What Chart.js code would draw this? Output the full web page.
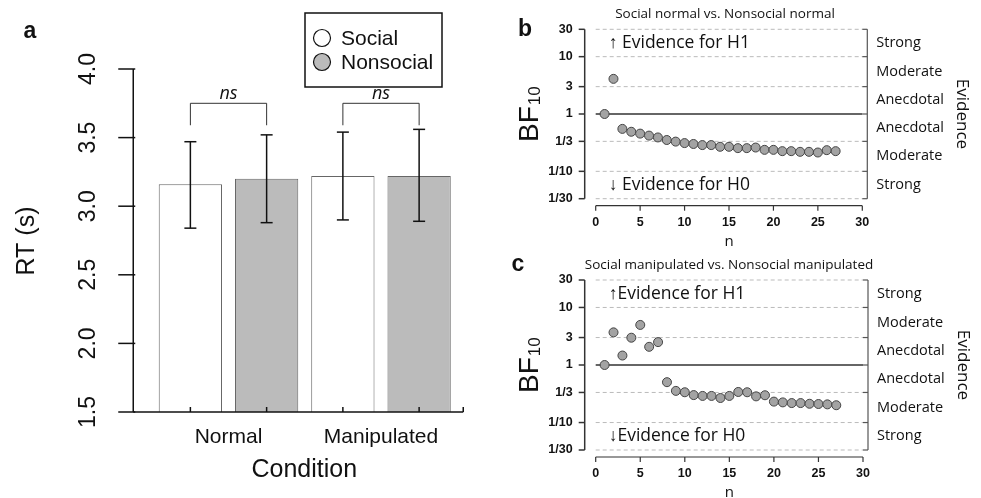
<!DOCTYPE html>
<html>
<head>
<meta charset="utf-8">
<script src="https://cdn.jsdelivr.net/npm/chart.js@4.4.0/dist/chart.umd.min.js"></script>
<style>
body { margin: 0; background: #fff; }
#wrap { position: relative; width: 981px; height: 498px; }
canvas { position: absolute; left: 0; top: 0; }
</style>
</head>
<body>
<div id="wrap">
<canvas id="chartA" width="981" height="498"></canvas>
<canvas id="chartB" width="981" height="498"></canvas>
<canvas id="chartC" width="981" height="498"></canvas>
</div>
<script>
// panel a: mean RT with error bars
const conditions = ["Normal", "Manipulated"];
const socialRT = [3.16, 3.22];
const nonsocialRT = [3.20, 3.22];
const socialLow = [2.84, 2.90];
const socialHigh = [3.47, 3.54];
const nonsocialLow = [2.88, 2.89];
const nonsocialHigh = [3.52, 3.56];
const rtTicks = [1.5, 2.0, 2.5, 3.0, 3.5, 4.0];
const rtTickLabels = ["1.5", "2.0", "2.5", "3.0", "3.5", "4.0"];

// panels b, c: sequential Bayes factors
const nObs = [1, 2, 3, 4, 5, 6, 7, 8, 9, 10, 11, 12, 13, 14, 15, 16, 17, 18, 19, 20, 21, 22, 23, 24, 25, 26, 27];
const bfNormal = [1, 4.1, 0.55, 0.49, 0.455, 0.42, 0.39, 0.352, 0.33, 0.311, 0.30, 0.287, 0.287, 0.268, 0.268,
  0.254, 0.254, 0.26, 0.237, 0.237, 0.225, 0.225, 0.219, 0.219, 0.213, 0.234, 0.225];
const bfManip = [1, 3.69, 1.46, 2.98, 4.97, 2.07, 2.5, 0.503, 0.355, 0.336, 0.30, 0.29, 0.29, 0.267, 0.29,
  0.34, 0.336, 0.285, 0.298, 0.231, 0.224, 0.218, 0.218, 0.212, 0.21, 0.207, 0.2];
const bfTicks = [30, 10, 3, 1, 1 / 3, 1 / 10, 1 / 30];
const bfTickLabels = ["30", "10", "3", "1", "1/3", "1/10", "1/30"];
const nTicks = [0, 5, 10, 15, 20, 25, 30];
const evidenceLabels = ["Strong", "Moderate", "Anecdotal", "Anecdotal", "Moderate", "Strong"];

const SANS = "'Liberation Sans', Arial, sans-serif";
const HUM = "'Open Sans', sans-serif";

function txt(ctx, s, x, y, font, align, rot) {
  ctx.save();
  ctx.translate(x, y);
  if (rot) ctx.rotate(rot);
  ctx.font = font;
  ctx.fillStyle = "#111";
  ctx.textAlign = align || "center";
  ctx.textBaseline = "middle";
  ctx.fillText(s, 0, 0);
  ctx.restore();
}

function line(ctx, x1, y1, x2, y2) {
  ctx.beginPath();
  ctx.moveTo(x1, y1);
  ctx.lineTo(x2, y2);
  ctx.stroke();
}

const barDecor = {
  id: "barDecor",
  afterDatasetsDraw(chart) {
    const ctx = chart.ctx, y = chart.scales.y, area = chart.chartArea;
    const axX = area.left - 19, endX = area.right + 6;
    ctx.save();
    ctx.strokeStyle = "#111";
    ctx.lineWidth = 1.5;

    // error bars
    const lows = [socialLow, nonsocialLow], highs = [socialHigh, nonsocialHigh];
    const centers = [];
    for (let d = 0; d < 2; d++) {
      chart.getDatasetMeta(d).data.forEach((bar, i) => {
        const y1 = y.getPixelForValue(lows[d][i]), y2 = y.getPixelForValue(highs[d][i]);
        line(ctx, bar.x, y1, bar.x, y2);
        line(ctx, bar.x - 6, y1, bar.x + 6, y1);
        line(ctx, bar.x - 6, y2, bar.x + 6, y2);
        centers.push(bar.x);
      });
    }

    // ns brackets
    ctx.lineWidth = 1;
    ctx.strokeStyle = "#333";
    conditions.forEach((c, i) => {
      const xl = chart.getDatasetMeta(0).data[i].x, xr = chart.getDatasetMeta(1).data[i].x;
      const top = y.getPixelForValue(3.75), foot = y.getPixelForValue(3.59);
      ctx.beginPath();
      ctx.moveTo(xl, foot); ctx.lineTo(xl, top); ctx.lineTo(xr, top); ctx.lineTo(xr, foot);
      ctx.stroke();
      txt(ctx, "ns", (xl + xr) / 2, top - 9, "italic 18px " + HUM);
    });

    // axes
    ctx.strokeStyle = "#111";
    ctx.lineWidth = 1.5;
    line(ctx, axX, y.getPixelForValue(4.0), axX, area.bottom);
    rtTicks.forEach((v, i) => {
      const py = y.getPixelForValue(v);
      line(ctx, axX - 15, py, axX + 2, py);
      txt(ctx, rtTickLabels[i], axX - 45, py, "23px " + SANS, "center", -Math.PI / 2);
    });
    line(ctx, axX, area.bottom, endX, area.bottom);
    centers.forEach(cx => line(ctx, cx, area.bottom, cx, area.bottom - 5));
    line(ctx, endX, area.bottom, endX, area.bottom - 5);

    conditions.forEach((c, i) => {
      txt(ctx, c, chart.scales.x.getPixelForValue(i), area.bottom + 25, "21px " + SANS);
    });
    txt(ctx, "Condition", (axX + endX) / 2 + 6, area.bottom + 58, "25px " + SANS);
    txt(ctx, "RT (s)", 27, 241, "25px " + SANS, "center", -Math.PI / 2);
    txt(ctx, "a", 30, 32, "bold 23px " + SANS);

    // legend
    ctx.lineWidth = 1.5;
    ctx.strokeRect(305, 13, 137, 74);
    const fills = ["#ffffff", "#bbbbbb"];
    chart.data.datasets.forEach((ds, k) => {
      const cy = 38 + k * 24;
      ctx.beginPath();
      ctx.arc(322, cy, 8.5, 0, Math.PI * 2);
      ctx.fillStyle = fills[k];
      ctx.fill();
      ctx.lineWidth = 1.2;
      ctx.stroke();
      txt(ctx, ds.label, 341, cy + 1, "21px " + SANS, "left");
    });
    ctx.restore();
  }
};

new Chart(document.getElementById("chartA"), {
  type: "bar",
  data: {
    labels: conditions,
    datasets: [
      { label: "Social", data: socialRT, backgroundColor: "#ffffff", borderColor: "#666", borderWidth: 1, base: 1.5 },
      { label: "Nonsocial", data: nonsocialRT, backgroundColor: "#bbbbbb", borderColor: "#666", borderWidth: 1, base: 1.5 }
    ]
  },
  options: {
    responsive: false,
    animation: false,
    events: [],
    layout: { padding: { left: 152.25, right: 523.75, top: 69, bottom: 86 }, autoPadding: false },
    datasets: { bar: { categoryPercentage: 1, barPercentage: 0.83 } },
    plugins: { legend: { display: false }, tooltip: { enabled: false } },
    scales: {
      x: { display: false },
      y: { display: false, min: 1.5, max: 4.0 }
    }
  },
  plugins: [barDecor]
});

const bfDecor = {
  id: "bfDecor",
  beforeDatasetsDraw(chart) {
    const ctx = chart.ctx, y = chart.scales.y, area = chart.chartArea;
    ctx.save();
    bfTicks.forEach(v => {
      const py = y.getPixelForValue(v);
      if (v === 1) {
        ctx.setLineDash([]);
        ctx.strokeStyle = "#333";
        ctx.lineWidth = 1.6;
      } else {
        ctx.setLineDash([4, 3]);
        ctx.strokeStyle = "#bbb";
        ctx.lineWidth = 1;
      }
      line(ctx, area.left, py, area.right, py);
    });
    ctx.restore();
  },
  afterDraw(chart, args, opts) {
    const ctx = chart.ctx, x = chart.scales.x, y = chart.scales.y, area = chart.chartArea;
    const ax = area.left - 11, rx = area.right + 5, by = area.bottom + 7;
    ctx.save();
    // left axis
    ctx.strokeStyle = "#333";
    ctx.lineWidth = 1.5;
    line(ctx, ax, y.getPixelForValue(30), ax, y.getPixelForValue(1 / 30));
    bfTicks.forEach((v, i) => {
      const py = y.getPixelForValue(v);
      line(ctx, ax - 6, py, ax, py);
      txt(ctx, bfTickLabels[i], ax - 12, py, "bold 12.5px " + SANS, "right");
    });
    // right axis
    ctx.strokeStyle = "#555";
    ctx.lineWidth = 1.2;
    line(ctx, rx, y.getPixelForValue(30), rx, y.getPixelForValue(1 / 30));
    bfTicks.forEach(v => {
      const py = y.getPixelForValue(v);
      line(ctx, rx - 5, py, rx, py);
    });
    evidenceLabels.forEach((s, i) => {
      const mid = Math.sqrt(bfTicks[i] * bfTicks[i + 1]);
      txt(ctx, s, rx + 9, y.getPixelForValue(mid), "14.5px " + HUM, "left");
    });
    txt(ctx, "Evidence", rx + 95, y.getPixelForValue(1), "17px " + HUM, "center", Math.PI / 2);
    // bottom axis
    ctx.strokeStyle = "#333";
    ctx.lineWidth = 1.2;
    line(ctx, x.getPixelForValue(0), by, x.getPixelForValue(30), by);
    nTicks.forEach(v => {
      const px = x.getPixelForValue(v);
      line(ctx, px, by, px, by + 5);
      txt(ctx, String(v), px, by + 17, "bold 12.5px " + SANS);
    });
    txt(ctx, "n", (area.left + area.right) / 2, by + 36, "15px " + HUM);
    // BF10 label
    ctx.save();
    ctx.translate(area.left - 58, y.getPixelForValue(1) + 28);
    ctx.rotate(-Math.PI / 2);
    ctx.fillStyle = "#111";
    ctx.textBaseline = "alphabetic";
    ctx.textAlign = "left";
    ctx.font = "28px " + SANS;
    ctx.fillText("BF", 0, 0);
    const w = ctx.measureText("BF").width;
    ctx.font = "17px " + SANS;
    ctx.fillText("10", w + 1, 2);
    ctx.restore();
    // annotations
    txt(ctx, opts.h1, area.left + 13, y.getPixelForValue(Math.sqrt(300)), "17.5px " + HUM, "left");
    txt(ctx, opts.h0, area.left + 13, y.getPixelForValue(1 / Math.sqrt(300)), "17.5px " + HUM, "left");
    txt(ctx, opts.title, opts.titleX, opts.titleY, "13.5px " + HUM);
    txt(ctx, opts.letter, opts.letterX, opts.letterY, "bold 23px " + SANS);
    ctx.restore();
  }
};

function bfChart(id, values, pad, decor) {
  return new Chart(document.getElementById(id), {
    type: "scatter",
    data: {
      datasets: [{
        data: nObs.map((n, i) => ({ x: n, y: values[i] })),
        pointRadius: 4.5,
        pointBackgroundColor: "#a3a3a3",
        pointBorderColor: "#444",
        pointBorderWidth: 1
      }]
    },
    options: {
      responsive: false,
      animation: false,
      events: [],
      layout: { padding: pad, autoPadding: false },
      plugins: { legend: { display: false }, tooltip: { enabled: false }, bfDecor: decor },
      scales: {
        x: { type: "linear", min: 0, max: 30, display: false },
        y: { type: "logarithmic", min: 1 / 30, max: 30, display: false }
      }
    },
    plugins: [bfDecor]
  });
}

bfChart("chartB", bfNormal, { left: 595.7, right: 118.7, top: 29.3, bottom: 299.3 },
  { title: "Social normal vs. Nonsocial normal", titleX: 725, titleY: 14, letter: "b", letterX: 525, letterY: 30,
    h1: "\u2191 Evidence for H1", h0: "\u2193 Evidence for H0" });
bfChart("chartC", bfManip, { left: 595.7, right: 118, top: 280, bottom: 48 },
  { title: "Social manipulated vs. Nonsocial manipulated", titleX: 729, titleY: 265, letter: "c", letterX: 518, letterY: 265,
    h1: "\u2191Evidence for H1", h0: "\u2193Evidence for H0" });
</script>
</body>
</html>
